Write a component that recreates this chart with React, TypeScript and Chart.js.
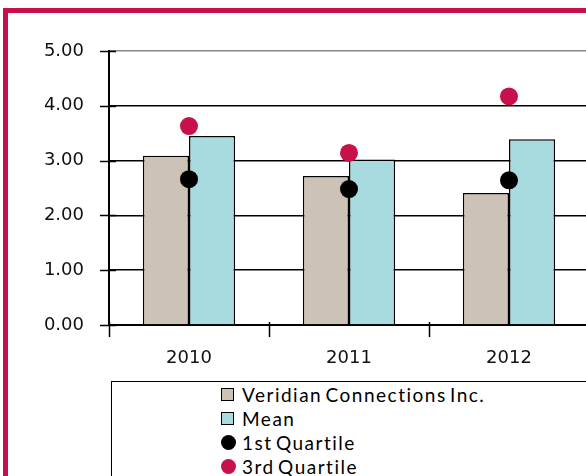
import React, { useEffect, useRef } from 'react';
import { Chart, registerables } from 'chart.js';
Chart.register(...registerables);

const categories = ['2010', '2011', '2012'];
const veridian = [3.09, 2.72, 2.41];
const meanValues = [3.45, 3.02, 3.39];
const firstQuartile = [2.66, 2.48, 2.64];
const thirdQuartile = [3.63, 3.14, 4.17];
const seriesNames = ['Veridian Connections Inc.', 'Mean', '1st Quartile', '3rd Quartile'];
const yTickValues = [0, 1, 2, 3, 4, 5];

const TAN = '#CCC2B6';
const CYAN = '#A7DBDF';
const BLACK = '#000000';
const CRIMSON = '#C8104A';
const seriesColors = [TAN, CYAN, BLACK, CRIMSON];
const seriesShapes = ['square', 'square', 'circle', 'circle'];

const W = 660;
const H = 520;
const LEFT = 109;
const TOP = 51;
const RIGHT = 589;
const BOTTOM = 325;

const crossTicks = {
  id: 'crossTicks',
  afterDraw(chart: any) {
    const { ctx, chartArea, scales } = chart;
    const x = scales.x;
    const y = scales.y;
    ctx.save();
    ctx.strokeStyle = '#000';
    ctx.lineWidth = 1.5;
    y.ticks.forEach((_t: any, i: number) => {
      const py = Math.round(y.getPixelForTick(i)) + 0.5;
      ctx.beginPath();
      ctx.moveTo(chartArea.left - 9, py);
      ctx.lineTo(chartArea.left + 7, py);
      ctx.stroke();
    });
    for (let i = 0; i <= categories.length; i++) {
      const px = Math.round(x.getPixelForValue(i - 0.5)) + 0.5;
      ctx.beginPath();
      ctx.moveTo(px, chartArea.bottom - 3);
      ctx.lineTo(px, chartArea.bottom + 12);
      ctx.stroke();
    }
    ctx.restore();
  },
};

export default function App() {
  const ref = useRef<HTMLCanvasElement>(null);
  useEffect(() => {
    if (!ref.current) return;
    const chart = new Chart(ref.current, {
      type: 'bar',
      data: {
        labels: categories,
        datasets: [
          {
            type: 'bar',
            label: seriesNames[0],
            data: veridian,
            backgroundColor: TAN,
            borderColor: BLACK,
            borderWidth: 1.5,
            categoryPercentage: 0.577,
            barPercentage: 1,
            order: 2,
          },
          {
            type: 'bar',
            label: seriesNames[1],
            data: meanValues,
            backgroundColor: CYAN,
            borderColor: BLACK,
            borderWidth: 1.5,
            categoryPercentage: 0.577,
            barPercentage: 1,
            order: 2,
          },
          {
            type: 'line',
            label: seriesNames[2],
            data: firstQuartile,
            showLine: false,
            pointRadius: 9,
            pointBackgroundColor: BLACK,
            pointBorderColor: BLACK,
            pointBorderWidth: 0,
            order: 0,
          },
          {
            type: 'line',
            label: seriesNames[3],
            data: thirdQuartile,
            showLine: false,
            pointRadius: 9,
            pointBackgroundColor: CRIMSON,
            pointBorderColor: CRIMSON,
            pointBorderWidth: 0,
            order: 0,
          },
        ],
      } as any,
      options: {
        responsive: false,
        animation: false,
        devicePixelRatio: 1,
        layout: { padding: { left: 0, top: TOP, right: W - RIGHT, bottom: 0 } },
        plugins: { legend: { display: false }, tooltip: { enabled: false } },
        scales: {
          x: {
            type: 'category',
            offset: true,
            grid: { display: false },
            border: { display: true, color: '#000', width: 2 },
            ticks: { font: { family: 'DejaVu Sans', size: 18 }, color: '#111', padding: 15, maxRotation: 0 },
            afterFit: (s: any) => {
              s.height = H - BOTTOM;
            },
          },
          y: {
            min: 0,
            max: 5,
            afterBuildTicks: (s: any) => {
              s.ticks = yTickValues.map((v) => ({ value: v }));
            },
            ticks: {
              callback: (v: any) => Number(v).toFixed(2),
              padding: 25,
              font: { family: 'DejaVu Sans', size: 18 },
              color: '#111',
            },
            grid: {
              color: (c: any) => (c.tick && c.tick.value === 5 ? '#888' : '#000'),
              lineWidth: 1.5,
              drawTicks: false,
            },
            border: { display: true, color: '#000', width: 2 },
            afterFit: (s: any) => {
              s.width = LEFT;
            },
          },
        },
      } as any,
      plugins: [crossTicks],
    });
    return () => chart.destroy();
  }, []);

  return (
    <div
      style={{
        position: 'fixed',
        left: 0,
        top: 0,
        width: 586,
        height: 476,
        overflow: 'hidden',
        background: '#fff',
      }}
    >
      <div
        style={{
          position: 'absolute',
          left: 3,
          top: 8,
          width: 700,
          height: 600,
          border: `5px solid ${CRIMSON}`,
          boxSizing: 'border-box',
        }}
      />
      <canvas
        ref={ref}
        width={W}
        height={H}
        style={{ position: 'absolute', left: 0, top: 0, width: W, height: H }}
      />
      <div
        style={{
          position: 'absolute',
          left: 111,
          top: 381,
          width: 560,
          height: 140,
          border: '1.5px solid #000',
          boxSizing: 'border-box',
          background: '#fff',
        }}
      />
      {seriesNames.map((name, i) => {
        const cy = 394 + i * 24;
        const isSq = seriesShapes[i] === 'square';
        return (
          <div
            key={name}
            style={{
              position: 'absolute',
              left: 221,
              top: cy - 12,
              height: 24,
              display: 'flex',
              alignItems: 'center',
              whiteSpace: 'nowrap',
              fontFamily: 'Lato, sans-serif',
              fontSize: 19,
              letterSpacing: 1.5,
              wordSpacing: -3,
              color: '#000',
            }}
          >
            <span
              style={{
                display: 'inline-block',
                width: isSq ? 13 : 15,
                height: isSq ? 13 : 15,
                boxSizing: 'border-box',
                background: seriesColors[i],
                border: isSq ? '1.5px solid #000' : 'none',
                borderRadius: isSq ? 0 : '50%',
                marginRight: isSq ? 8 : 6,
              }}
            />
            <span>{name}</span>
          </div>
        );
      })}
    </div>
  );
}
